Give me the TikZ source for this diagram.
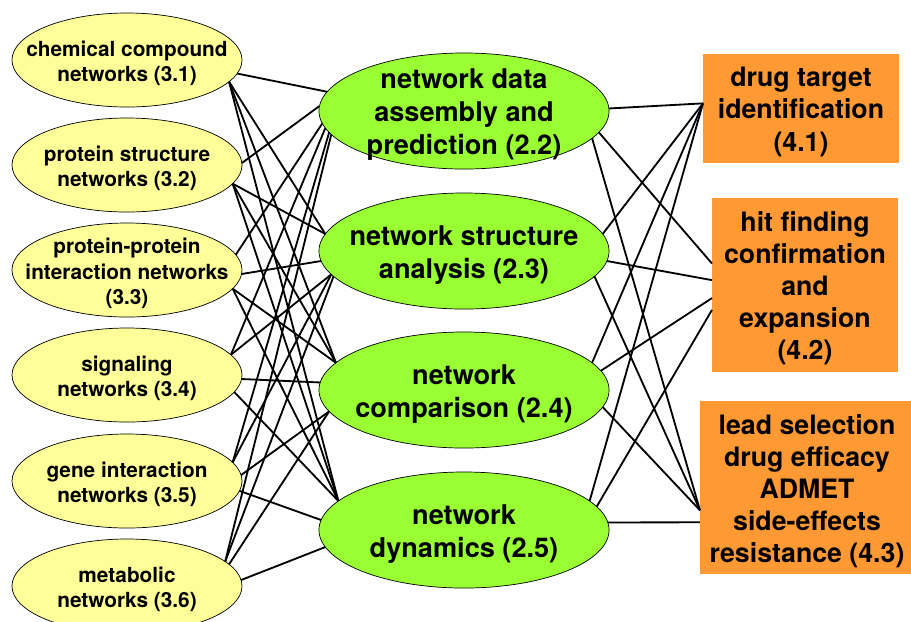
\documentclass[tikz,border=0pt]{standalone}
\usepackage{fontspec}
\setmainfont{TeX Gyre Heros}
\usetikzlibrary{shapes.geometric}
\definecolor{netyellow}{HTML}{FFFF99}
\definecolor{methgreen}{HTML}{99FF33}
\definecolor{apporange}{HTML}{FF9933}
\tikzset{
  netnode/.style={ellipse,draw=black,line width=0.5pt,fill=netyellow,
    minimum width=5.75cm,minimum height=2.35cm,inner sep=0pt,outer sep=0pt},
  nettext/.style={align=center,inner sep=0pt,yshift=-2.4pt,
    font=\fontsize{14.8}{18.3}\selectfont\bfseries},
  methnode/.style={ellipse,draw=black,line width=0.5pt,fill=methgreen,
    minimum width=7.25cm,minimum height=2.9cm,inner sep=0pt,outer sep=0pt},
  methtext/.style={align=center,inner sep=0pt,yshift=-2.8pt,
    font=\fontsize{19.3}{23.4}\selectfont\bfseries},
  appnode/.style={rectangle,fill=apporange,inner sep=0pt,outer sep=0pt},
  apptext/.style={align=center,inner sep=0pt,yshift=-2.4pt,
    font=\fontsize{19}{22.8}\selectfont\bfseries},
  link/.style={line width=1.3pt,black}
}
\begin{document}
\begin{tikzpicture}[x=0.025cm,y=-0.025cm]
\clip (0,0) rectangle (911,621);
\fill[white] (0,0) rectangle (911,621);

% data sources
\node[netnode] (n31) at (127,60) {};
\node[netnode] (n32) at (127,165) {};
\node[netnode] (n33) at (127,270) {};
\node[netnode] (n34) at (127,375) {};
\node[netnode] (n35) at (127,481) {};
\node[netnode] (n36) at (127,586) {};
\node[nettext] (n31-t) at (n31) {chemical compound\\networks (3.1)};
\node[nettext] (n32-t) at (n32) {protein structure\\networks (3.2)};
\node[nettext] (n33-t) at (n33) {protein-protein\\interaction networks\\(3.3)};
\node[nettext] (n34-t) at (n34) {signaling\\networks (3.4)};
\node[nettext] (n35-t) at (n35) {gene interaction\\networks (3.5)};
\node[nettext] (n36-t) at (n36) {metabolic\\networks (3.6)};

% methods
\node[methnode] (m22) at (464,111) {};
\node[methnode] (m23) at (464,251) {};
\node[methnode] (m24) at (464,390) {};
\node[methnode] (m25) at (464,530) {};
\node[methtext] (m22-t) at (m22) {network data\\assembly and\\prediction (2.2)};
\node[methtext] (m23-t) at (m23) {network structure\\analysis (2.3)};
\node[methtext] (m24-t) at (m24) {network\\comparison (2.4)};
\node[methtext] (m25-t) at (m25) {network\\dynamics (2.5)};

% applications
\node[appnode,minimum width=4.9cm,minimum height=2.725cm] (a41) at (801,108.5) {};
\node[appnode,minimum width=4.65cm,minimum height=4.35cm] (a42) at (805,285) {};
\node[appnode,minimum width=5.35cm,minimum height=4.325cm] (a43) at (807,487.5) {};
\node[apptext] (a41-t) at (a41) {drug target\\identification\\(4.1)};
\node[apptext] (a42-t) at (a42) {hit finding\\confirmation\\and\\expansion\\(4.2)};
\node[apptext] (a43-t) at (a43) {lead selection\\drug efficacy\\ADMET\\side-effects\\resistance (4.3)};

% sources -> methods
\foreach \s/\t/\a/\b in {31/22/-7/172, 31/23/-12/173, 31/24/-12/168, 31/25/-12/167,
    32/22/1.5/178, 32/23/-10.5/173, 32/24/-10.5/168, 32/25/-10.5/167,
    33/22/8/185, 33/23/-2/184, 33/24/-10/168, 33/25/-10/167,
    34/22/11/187, 34/23/11/190, 34/24/-2/177, 34/25/-9.5/167,
    35/22/10/189, 35/23/10/190, 35/24/3.5/189, 35/25/-5.5/176,
    36/22/14/190, 36/23/14/191, 36/24/12/189, 36/25/3/187}
  \draw[link] (n\s.\a) -- (m\t.\b);

% methods -> applications
\foreach \s/\t/\a/\b in {22/41/1/177, 22/42/-9/167, 22/43/-12.7/192,
    23/41/7.4/177, 23/42/-4.4/177.5, 23/43/-11.8/192,
    24/41/12.2/177, 24/42/8.2/188, 24/43/-7/192,
    25/41/13.4/177, 25/42/10.9/195, 25/43/3/198}
  \draw[link] (m\s.\a) -- (a\t.\b);
\end{tikzpicture}
\end{document}
